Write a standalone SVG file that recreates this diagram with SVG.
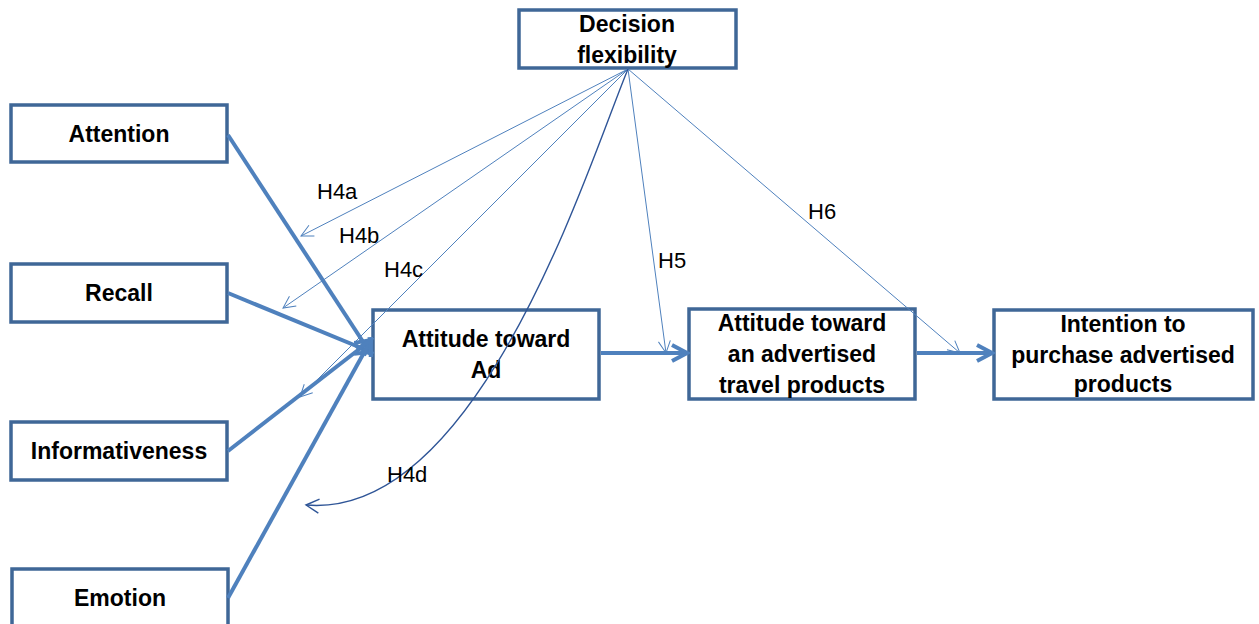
<svg xmlns="http://www.w3.org/2000/svg" width="1259" height="624" viewBox="0 0 1259 624">
<style>
.box{fill:#fff;stroke:#3F6797;stroke-width:3.5}
.t{font-family:"Liberation Sans",Arial,sans-serif;font-weight:bold;font-size:23px;fill:#000;text-anchor:middle}
.lbl{font-family:"Liberation Sans",Arial,sans-serif;font-size:22px;fill:#000}
.thick{stroke:#4F81BD;stroke-width:4;fill:none}
.thin{stroke:#4F81BD;stroke-width:1;fill:none}
.curve{stroke:#2F5597;stroke-width:1.4;fill:none}
</style>
<defs>
<marker id="ah" markerUnits="userSpaceOnUse" markerWidth="20" markerHeight="20" viewBox="0 0 20 20" refX="17" refY="10" orient="auto">
<path d="M2,2 L17,10 L2,18" fill="none" stroke="#4F81BD" stroke-width="4"/>
</marker>
<marker id="at" markerUnits="userSpaceOnUse" markerWidth="14" markerHeight="14" viewBox="0 0 14 14" refX="13" refY="7" orient="auto">
<path d="M1,1 L13,7 L1,13" fill="none" stroke="#4F81BD" stroke-width="1"/>
</marker>
<marker id="ad" markerUnits="userSpaceOnUse" markerWidth="16" markerHeight="16" viewBox="0 0 16 16" refX="14" refY="8" orient="auto">
<path d="M1,1 L14,8 L1,15" fill="none" stroke="#2F5597" stroke-width="1.4"/>
</marker>
</defs>
<g id="decision">
<rect class="box" x="519" y="10" width="217" height="58"/>
<text class="t" x="627" y="32">Decision</text>
<text class="t" x="627" y="63">flexibility</text>
</g>
<g id="attention">
<rect class="box" x="11" y="105" width="216" height="57"/>
<text class="t" x="119" y="142">Attention</text>
</g>
<g id="recall">
<rect class="box" x="11" y="264" width="216" height="58"/>
<text class="t" x="119" y="301">Recall</text>
</g>
<g id="informativeness">
<rect class="box" x="11" y="422" width="216" height="58"/>
<text class="t" x="119" y="459">Informativeness</text>
</g>
<g id="emotion">
<rect class="box" x="12" y="569" width="216" height="60"/>
<text class="t" x="120" y="606">Emotion</text>
</g>
<g id="attitude-ad">
<rect class="box" x="373" y="310" width="226" height="89"/>
<text class="t" x="486" y="347">Attitude toward</text>
<text class="t" x="486" y="378">Ad</text>
</g>
<g id="attitude-products">
<rect class="box" x="689" y="309" width="226" height="90"/>
<text class="t" x="802" y="331">Attitude toward</text>
<text class="t" x="802" y="362">an advertised</text>
<text class="t" x="802" y="393">travel products</text>
</g>
<g id="intention">
<rect class="box" x="994" y="310" width="259" height="89"/>
<text class="t" x="1123" y="332">Intention to</text>
<text class="t" x="1123" y="363">purchase advertised</text>
<text class="t" x="1123" y="392">products</text>
</g>
<g id="connectors">
<line class="thick" x1="228" y1="135" x2="371" y2="354" marker-end="url(#ah)"/>
<line class="thick" x1="228" y1="293" x2="371" y2="352" marker-end="url(#ah)"/>
<line class="thick" x1="228" y1="451" x2="371" y2="340" marker-end="url(#ah)"/>
<line class="thick" x1="228" y1="598" x2="371" y2="340" marker-end="url(#ah)"/>
<line class="thick" x1="601" y1="353" x2="687" y2="353" marker-end="url(#ah)"/>
<line class="thick" x1="917" y1="353" x2="992" y2="353" marker-end="url(#ah)"/>
<line class="thin" x1="628" y1="69" x2="301" y2="236" marker-end="url(#at)"/>
<line class="thin" x1="628" y1="69" x2="283" y2="308" marker-end="url(#at)"/>
<line class="thin" x1="628" y1="69" x2="300" y2="397" marker-end="url(#at)"/>
<line class="thin" x1="628" y1="69" x2="666" y2="353" marker-end="url(#at)"/>
<line class="thin" x1="628" y1="69" x2="960" y2="353" marker-end="url(#at)"/>
<path class="curve" d="M628,69 C590,160 480,520 306,505" marker-end="url(#ad)"/>
<text class="lbl" x="317" y="199">H4a</text>
<text class="lbl" x="339" y="243">H4b</text>
<text class="lbl" x="384" y="277">H4c</text>
<text class="lbl" x="387" y="482">H4d</text>
<text class="lbl" x="658" y="268">H5</text>
<text class="lbl" x="808" y="219">H6</text>
</g>
</svg>
